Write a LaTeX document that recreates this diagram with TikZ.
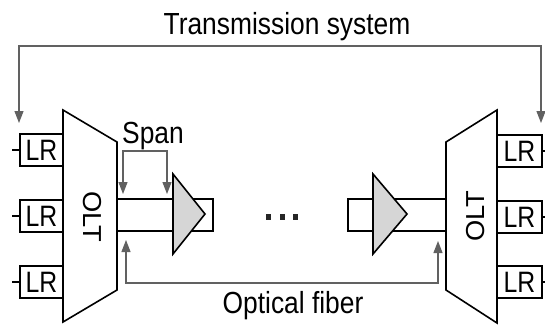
\documentclass[tikz,border=0pt]{standalone}
\usepackage{fontspec}
\setmainfont{Liberation Sans}
\usetikzlibrary{arrows.meta}
\begin{document}
\begin{tikzpicture}[x=1pt,y=-1pt,
  conn/.style={draw=black!62, line width=1.1pt},
  tipboth/.style={{Triangle[width=9pt,length=12pt]}-{Triangle[width=9pt,length=12pt]}},
  outl/.style={draw=black, line width=1.6pt, line join=miter},
  amp/.style={outl, fill=black!16},
  lrbox/.style={draw=black, line width=1.6pt, minimum width=43pt, minimum height=32pt, inner sep=0pt, font=\fontsize{29.5}{29.5}\selectfont},
  lbl/.style={inner sep=0pt, anchor=base, font=\fontsize{30.5}{30.5}\selectfont},
  oltlbl/.style={inner sep=0pt, font=\fontsize{26}{26}\selectfont},
  dotsq/.style={fill=black!85},
]
\useasboundingbox (0,0) rectangle (545,325);

% Labels
\node[lbl] (ts) at (287,34) {\scalebox{0.865}[1]{Transmission system}};
\node[lbl] (span) at (153,143) {\scalebox{0.865}[1]{Span}};
\node[lbl] (of) at (293,313) {\scalebox{0.865}[1]{Optical fiber}};

% Left fiber and amplifier
\draw[outl] (117,199) rectangle (213,231);
\draw[amp] (173,174) -- (205,214) -- (173,254) -- cycle;
% Right fiber and amplifier
\draw[outl] (348,199) rectangle (446,231);
\draw[amp] (373,174) -- (407,214) -- (373,254) -- cycle;

% OLTs
\draw[outl, fill=white] (63,110) -- (117,142) -- (117,290) -- (63,322) -- cycle;
\draw[outl, fill=white] (446,142) -- (497,110) -- (497,323) -- (446,290) -- cycle;
\node[oltlbl, rotate=-90] (oltL) at (92,217) {\scalebox{1.05}[1]{OLT}};
\node[oltlbl, rotate=90] (oltR) at (476,216) {\scalebox{1.05}[1]{OLT}};

% LR boxes left
\node[lrbox] (lrL1) at (41.5,150) {\scalebox{0.84}[1]{LR}};
\node[lrbox] (lrL2) at (41.5,216) {\scalebox{0.84}[1]{LR}};
\node[lrbox] (lrL3) at (41.5,282) {\scalebox{0.84}[1]{LR}};
\foreach \n in {lrL1,lrL2,lrL3} \draw[outl] (\n.west) -- ++(-7,0);
% LR boxes right
\node[lrbox, minimum width=45pt] (lrR1) at (519.5,151) {\scalebox{0.84}[1]{LR}};
\node[lrbox, minimum width=45pt] (lrR2) at (519.5,217) {\scalebox{0.84}[1]{LR}};
\node[lrbox, minimum width=45pt] (lrR3) at (519.5,282) {\scalebox{0.84}[1]{LR}};
\foreach \n in {lrR1,lrR2,lrR3} \draw[outl] (\n.east) -- ++(5,0);

% Dots
\fill[dotsq] (266,214) rectangle (271,220);
\fill[dotsq] (279.5,214) rectangle (284.5,220);
\fill[dotsq] (292.5,214) rectangle (297.5,220);

% Transmission system connector
\coordinate (tsA) at (19,123);
\coordinate (tsB) at (541,123);
\coordinate (tsTop) at (280,46);
\draw[conn, tipboth] (tsA) |- (tsTop) -| (tsB);

% Span connector
\coordinate (spA) at (123,194);
\coordinate (spB) at (167,194);
\coordinate (spTop) at (145,151);
\draw[conn, tipboth] (spA) |- (spTop) -| (spB);

% Optical fiber connector
\coordinate (ofA) at (126,240);
\coordinate (ofB) at (438,241);
\coordinate (ofBot) at (280,283);
\draw[conn, tipboth] (ofA) |- (ofBot) -| (ofB);
\end{tikzpicture}
\end{document}
